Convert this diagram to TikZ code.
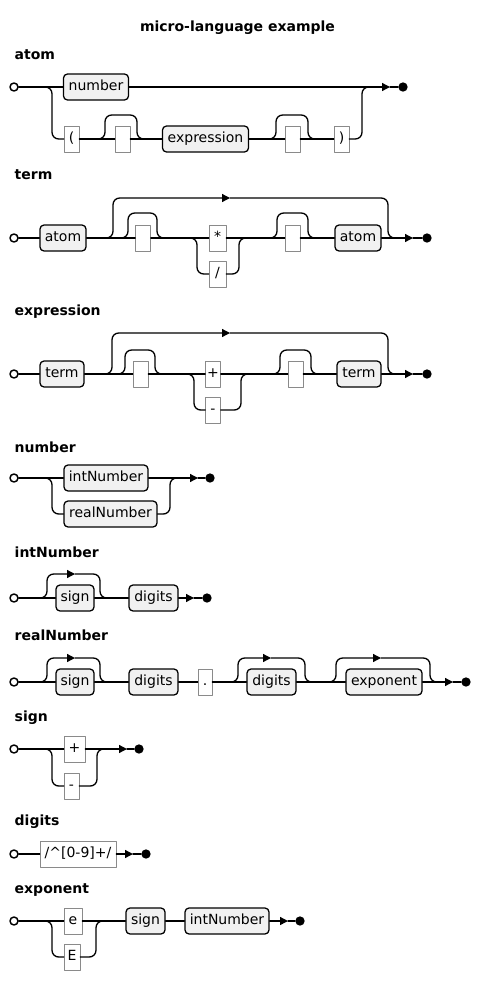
\documentclass[tikz,border=0pt]{standalone}
\usepackage{fontspec}
\setmainfont{DejaVu Sans}
\usetikzlibrary{arrows.meta}
\definecolor{ntfill}{HTML}{F1F1F1}
\definecolor{tmline}{HTML}{8A8A8A}
\begin{document}
\begin{tikzpicture}[x=0.75pt,y=-0.75pt,line join=round,line cap=round,font=\fontsize{10.5}{12}\selectfont,
	rail/.style={line width=1pt,rounded corners=5pt},
	tip/.style={rail,-{Triangle[length=6pt,width=6pt]}},
	nt/.style={draw,line width=0.95pt,rounded corners=3pt,fill=ntfill,minimum height=19.5pt,inner sep=0pt,text height=8pt,text depth=2.5pt},
	tm/.style={draw=tmline,line width=0.6pt,fill=white,minimum height=19.5pt,inner sep=0pt,text height=8pt,text depth=2.5pt},
	bw/.style={minimum width=#1*0.75pt},
	startpt/.style={circle,draw,line width=1.1pt,fill=white,minimum size=6pt,inner sep=0pt},
	endpt/.style={circle,fill=black,minimum size=7pt,inner sep=0pt},
	rulename/.style={anchor=west,font=\fontsize{10.5}{12}\selectfont\bfseries}]
	\useasboundingbox (0,0) rectangle (480,996);
	\node[font=\fontsize{10.5}{12}\selectfont\bfseries] (title) at (237.5,28) {micro-language example};
	
	% atom
	\node[rulename] (atomlbl) at (10,55) {atom};
	\node[startpt] (a0) at (14,87) {};
	\node[nt,bw=65] (anum) at (96,87) {number};
	\node[tm,bw=15] (alpar) at (71.5,139) {(};
	\node[tm,bw=15] (aopt1) at (122.5,139) {};
	\node[nt,bw=86] (aexpr) at (205.5,139) {expression};
	\node[tm,bw=15] (aopt2) at (292.5,139) {};
	\node[tm,bw=15] (arpar) at (341.5,139) {)};
	\coordinate (a8) at (390,87);
	\node[endpt] (a9) at (403,87) {};
	\draw[rail] (a0) -- (anum);
	\draw[rail] (40,87) -- (52,87) -- (52,139) -- (alpar.west);
	\draw[rail] (alpar.east) -- (aopt1.west) (aopt1.east) -- (aexpr.west) (aexpr.east) -- (aopt2.west) (aopt2.east) -- (arpar.west);
	\draw[rail] (98,139) -- (105,139) -- (105,115) -- (137,115) -- (137,139) -- (144,139);
	\draw[rail] (269,139) -- (276,139) -- (276,115) -- (308,115) -- (308,139) -- (315,139);
	\draw[rail] (arpar.east) -- (362,139) -- (362,87) -- (374,87);
	\draw[tip] (anum.east) -- (a8);
	\draw[rail] (a8) -- (a9);
	
	% term
	\node[rulename] (termlbl) at (10,175) {term};
	\node[startpt] (t0) at (14,238) {};
	\node[nt,bw=46] (tatom1) at (63,238) {atom};
	\node[tm,bw=15] (topt1) at (143,238) {};
	\node[tm,bw=17] (tmul) at (217.5,238) {*};
	\node[tm,bw=17] (tdiv) at (217.5,274) {/};
	\node[tm,bw=15] (topt2) at (292.5,238) {};
	\node[nt,bw=46] (tatom2) at (358,238) {atom};
	\coordinate (t8) at (413,238);
	\node[endpt] (t9) at (427,238) {};
	\draw[rail] (t0) -- (tatom1);
	\draw[rail] (tatom1.east) -- (topt1.west) (topt1.east) -- (tmul.west) (tmul.east) -- (topt2.west) (topt2.east) -- (tatom2.west);
	\draw[tip] (106,238) -- (113,238) -- (113,198) -- (230,198);
	\draw[rail] (230,198) -- (388,198) -- (388,238) -- (396,238);
	\draw[rail] (121,238) -- (128,238) -- (128,213) -- (157,213) -- (157,238) -- (164,238);
	\draw[rail] (185,238) -- (197,238) -- (197,274) -- (tdiv.west);
	\draw[rail] (tdiv.east) -- (239,274) -- (239,238) -- (251,238);
	\draw[rail] (270,238) -- (277,238) -- (277,213) -- (308,213) -- (308,238) -- (315,238);
	\draw[tip] (tatom2.east) -- (t8);
	\draw[rail] (t8) -- (t9);
	
	% expression
	\node[rulename] (exprlbl) at (10,312) {expression};
	\node[startpt] (e0) at (14,374) {};
	\node[nt,bw=44] (eterm1) at (62,374) {term};
	\node[tm,bw=15] (eopt1) at (140.5,374) {};
	\node[tm,bw=15] (eplus) at (213,374) {+};
	\node[tm,bw=15] (eminus) at (213,410) {-};
	\node[tm,bw=15] (eopt2) at (295.5,374) {};
	\node[nt,bw=44] (eterm2) at (359,374) {term};
	\coordinate (e8) at (413,374);
	\node[endpt] (e9) at (427,374) {};
	\draw[rail] (e0) -- (eterm1);
	\draw[rail] (eterm1.east) -- (eopt1.west) (eopt1.east) -- (eplus.west) (eplus.east) -- (eopt2.west) (eopt2.east) -- (eterm2.west);
	\draw[tip] (105,374) -- (112,374) -- (112,333) -- (230,333);
	\draw[rail] (230,333) -- (388,333) -- (388,374) -- (396,374);
	\draw[rail] (118,374) -- (125,374) -- (125,350) -- (155,350) -- (155,374) -- (162,374);
	\draw[rail] (182,374) -- (194,374) -- (194,410) -- (eminus.west);
	\draw[rail] (eminus.east) -- (241,410) -- (241,374) -- (253,374);
	\draw[rail] (273,374) -- (280,374) -- (280,350) -- (311,350) -- (311,374) -- (318,374);
	\draw[tip] (eterm2.east) -- (e8);
	\draw[rail] (e8) -- (e9);
	
	% number
	\node[rulename] (numlbl) at (10,447) {number};
	\node[startpt] (n0) at (14,478) {};
	\node[nt,bw=84] (nint) at (106,478) {intNumber};
	\node[nt,bw=93] (nreal) at (110.5,514) {realNumber};
	\coordinate (n8) at (198,478);
	\node[endpt] (n9) at (210,478) {};
	\draw[rail] (n0) -- (nint);
	\draw[rail] (40,478) -- (52,478) -- (52,514) -- (nreal.west);
	\draw[rail] (nreal.east) -- (170,514) -- (170,478) -- (182,478);
	\draw[tip] (nint.east) -- (n8);
	\draw[rail] (n8) -- (n9);
	
	% intNumber
	\node[rulename] (intlbl) at (10,552) {intNumber};
	\node[startpt] (i0) at (14,598) {};
	\node[nt,bw=38] (isign) at (75,598) {sign};
	\node[nt,bw=49] (idig) at (153.5,598) {digits};
	\coordinate (i8) at (194,598);
	\node[endpt] (i9) at (207,598) {};
	\draw[rail] (i0) -- (isign);
	\draw[tip] (40,598) -- (47,598) -- (47,574) -- (75,574);
	\draw[rail] (75,574) -- (100,574) -- (100,598) -- (108,598);
	\draw[rail] (isign.east) -- (idig.west);
	\draw[tip] (idig.east) -- (i8);
	\draw[rail] (i8) -- (i9);
	
	% realNumber
	\node[rulename] (reallbl) at (10,635) {realNumber};
	\node[startpt] (r0) at (14,682) {};
	\node[nt,bw=38] (rsign) at (75,682) {sign};
	\node[nt,bw=49] (rdig1) at (153.5,682) {digits};
	\node[tm,bw=14] (rdot) at (205,682) {.};
	\node[nt,bw=49] (rdig2) at (271.5,682) {digits};
	\node[nt,bw=76] (rexp) at (384,682) {exponent};
	\coordinate (r8) at (453,682);
	\node[endpt] (r9) at (466,682) {};
	\draw[rail] (r0) -- (rsign);
	\draw[tip] (40,682) -- (47,682) -- (47,658) -- (75,658);
	\draw[rail] (75,658) -- (100,658) -- (100,682) -- (108,682);
	\draw[rail] (rsign.east) -- (rdig1.west) (rdig1.east) -- (rdot.west) (rdot.east) -- (rdig2.west) (rdig2.east) -- (rexp.west);
	\draw[tip] (231,682) -- (238,682) -- (238,658) -- (271,658);
	\draw[rail] (271,658) -- (305,658) -- (305,682) -- (312,682);
	\draw[tip] (329,682) -- (336,682) -- (336,658) -- (381,658);
	\draw[rail] (381,658) -- (430,658) -- (430,682) -- (437,682);
	\draw[tip] (rexp.east) -- (r8);
	\draw[rail] (r8) -- (r9);
	
	% sign
	\node[rulename] (signlbl) at (10,718) {sign};
	\node[startpt] (s0) at (14,749) {};
	\node[tm,bw=21] (splus) at (74.5,749) {+};
	\node[tm,bw=15] (sminus) at (71.5,786) {-};
	\coordinate (s8) at (127,749);
	\node[endpt] (s9) at (139,749) {};
	\draw[rail] (s0) -- (splus);
	\draw[rail] (40,749) -- (52,749) -- (52,786) -- (sminus.west);
	\draw[rail] (sminus.east) -- (97,786) -- (97,749) -- (109,749);
	\draw[tip] (splus.east) -- (s8);
	\draw[rail] (s8) -- (s9);
	
	% digits
	\node[rulename] (diglbl) at (10,822) {digits};
	\node[startpt] (d0) at (14,854) {};
	\node[tm,bw=76] (dre) at (78,854) {/\textasciicircum[0-9]+/};
	\coordinate (d8) at (133,854);
	\node[endpt] (d9) at (146,854) {};
	\draw[rail] (d0) -- (dre);
	\draw[tip] (dre.east) -- (d8);
	\draw[rail] (d8) -- (d9);
	
	% exponent
	\node[rulename] (explbl) at (10,890) {exponent};
	\node[startpt] (x0) at (14,921) {};
	\node[tm,bw=18] (xe) at (73,921) {e};
	\node[tm,bw=16] (xE) at (72,957) {E};
	\node[nt,bw=39] (xsign) at (145.5,921) {sign};
	\node[nt,bw=84] (xint) at (227,921) {intNumber};
	\coordinate (x8) at (288,921);
	\node[endpt] (x9) at (300,921) {};
	\draw[rail] (x0) -- (xe);
	\draw[rail] (40,921) -- (52,921) -- (52,957) -- (xE.west);
	\draw[rail] (xE.east) -- (96,957) -- (96,921) -- (108,921);
	\draw[rail] (xe.east) -- (xsign.west) (xsign.east) -- (xint.west);
	\draw[tip] (xint.east) -- (x8);
	\draw[rail] (x8) -- (x9);
\end{tikzpicture}
\end{document}
